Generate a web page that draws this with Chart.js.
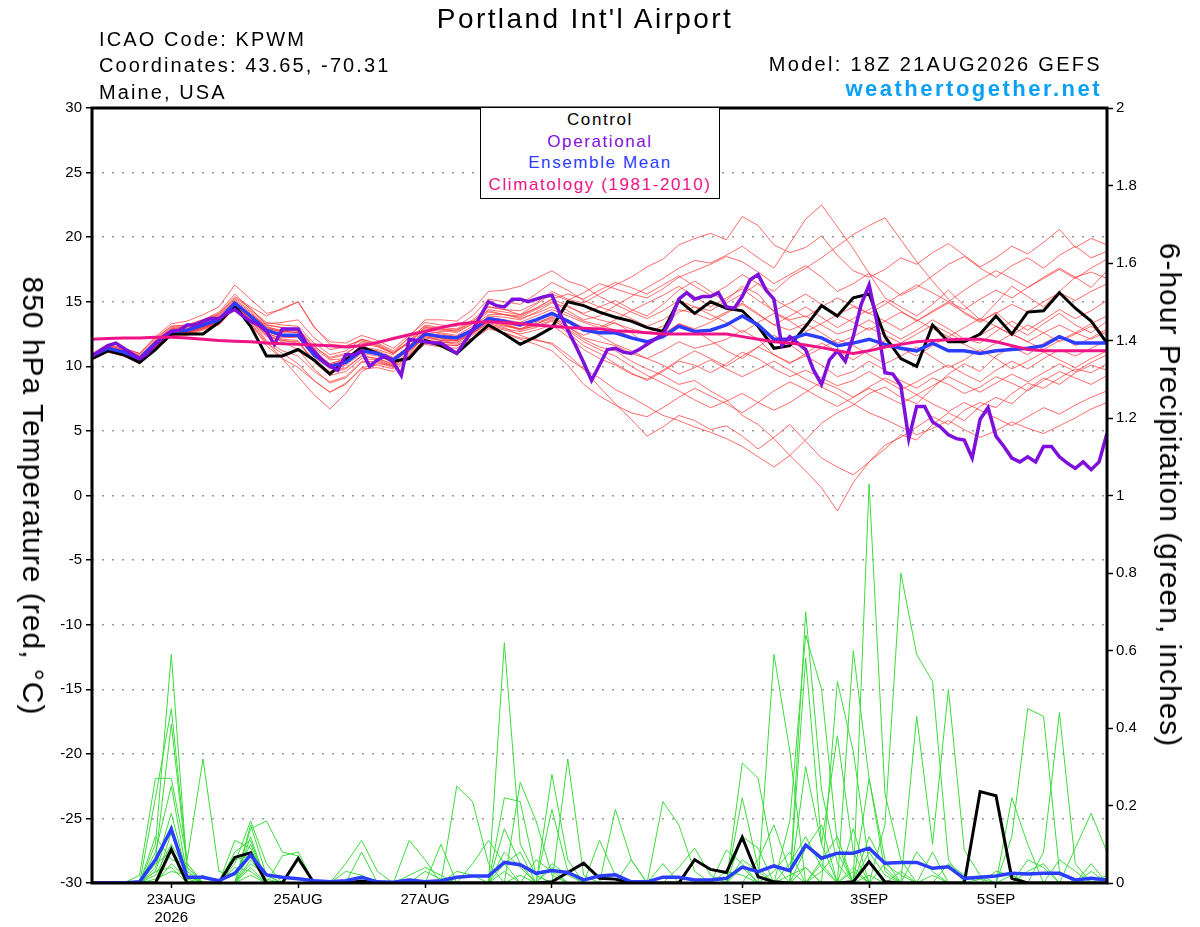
<!DOCTYPE html>
<html lang="en">
<head>
<meta charset="utf-8">
<title>Portland Int'l Airport - GEFS meteogram</title>
<script src="https://cdn.jsdelivr.net/npm/chart.js@4.4.1/dist/chart.umd.min.js"></script>
<style>
  html, body { margin: 0; padding: 0; background: #fff; }
  #wrap { position: relative; width: 1200px; height: 927px; overflow: hidden;
          font-family: "Liberation Sans", Arial, Helvetica, sans-serif; color: #000; }
  #chart { position: absolute; left: 0; top: 0; }
  .t { position: absolute; white-space: nowrap; }
  #title { left: 0; width: 1170px; top: 2px; text-align: center; font-size: 28px; line-height: 34px; letter-spacing: 2.4px; }
  .info { left: 99px; font-size: 20px; line-height: 24px; letter-spacing: 2.1px; }
  .right { right: 98px; text-align: right; }
  #model { top: 52px; font-size: 20px; line-height: 24px; letter-spacing: 2.3px; }
  #site { top: 76px; font-size: 22px; line-height: 26px; font-weight: bold; color: #0aa0f5; letter-spacing: 2.5px; }
  #legend { left: 480px; top: 107px; width: 240px; height: 92px; border: 1.5px solid #000; background: #fff;
            box-sizing: border-box; text-align: center; font-size: 17px; line-height: 21.5px; letter-spacing: 1.6px; padding-top: 1px; }
  .ytitle { font-size: 30px; line-height: 34px; letter-spacing: 1px; transform: translate(-50%, -50%) rotate(90deg); }
</style>
</head>
<body>
<div id="wrap">
  <canvas id="chart" width="1200" height="927"></canvas>
  <div class="t" id="title">Portland Int'l Airport</div>
  <div class="t info" style="top:27px">ICAO Code: KPWM</div>
  <div class="t info" style="top:53px">Coordinates: 43.65, -70.31</div>
  <div class="t info" style="top:80px">Maine, USA</div>
  <div class="t right" id="model">Model: 18Z 21AUG2026 GEFS</div>
  <div class="t right" id="site">weathertogether.net</div>
  <div class="t" id="legend">
    <div style="color:#000">Control</div>
    <div style="color:#7f10dc">Operational</div>
    <div style="color:#2b3dff">Ensemble Mean</div>
    <div style="color:#ee1488">Climatology (1981-2010)</div>
  </div>
  <div class="t ytitle" style="left:33px; top:496px">850 hPa Temperature (red, °C)</div>
  <div class="t ytitle" style="left:1170px; top:495px">6-hour Precipitation (green, inches)</div>
</div>

<script>
"use strict";

// forecast hours from 18Z 21AUG2026, every 6 h (operational every 3 h)
const stepHours = 6;
const opStepHours = 3;
const lastHour = 384;

// x axis: day ticks (hours) and their labels
const tickHours = [30, 78, 126, 174, 246, 294, 342];
const tickLabels = [["23AUG", "2026"], "25AUG", "27AUG", "29AUG", "1SEP", "3SEP", "5SEP"];

// 850 hPa temperature, deg C
const tempControl = [
  10.6,11.2,10.9,10.3,11.3,12.5,12.5,12.5,13.4,14.7,
  13.1,10.8,10.8,11.3,10.5,9.4,10.5,11.5,11.0,10.4,
  10.6,12.0,11.6,11.0,12.1,13.2,12.5,11.7,12.3,13.0,
  15.0,14.7,14.2,13.8,13.5,13.0,12.7,15.1,14.1,15.0,
  14.5,14.3,13.1,11.4,11.6,13.1,14.7,13.9,15.3,15.6,
  12.3,10.6,10.0,13.2,11.9,11.9,12.5,13.9,12.5,14.2,
  14.3,15.7,14.5,13.5,11.8
];
const tempMean = [
  10.8,11.4,11.1,10.6,11.8,12.7,12.8,13.2,13.6,14.9,
  13.9,12.8,12.4,12.4,10.9,10.0,10.3,11.2,11.0,10.5,
  11.4,12.5,12.3,12.2,12.8,13.7,13.5,13.2,13.6,14.1,
  13.5,12.8,12.6,12.6,12.2,11.9,12.3,13.1,12.7,12.8,
  13.2,13.9,13.2,12.1,12.1,12.5,12.2,11.6,11.8,12.1,
  11.7,11.4,11.2,11.8,11.2,11.2,11.0,11.2,11.3,11.4,
  11.6,12.3,11.8,11.8,11.8
];
const tempClimo = [
  12.1,12.15,12.2,12.2,12.25,12.25,12.2,12.1,12.0,11.95,
  11.9,11.8,11.75,11.7,11.65,11.6,11.5,11.6,11.85,12.15,
  12.45,12.7,13.0,13.25,13.4,13.45,13.4,13.3,13.2,13.1,
  13.0,12.95,12.9,12.75,12.7,12.6,12.5,12.5,12.5,12.5,
  12.5,12.3,12.1,11.9,11.8,11.65,11.45,11.2,11.0,11.2,
  11.5,11.7,11.9,12.0,12.05,12.1,12.1,11.9,11.6,11.3,
  11.2,11.2,11.2,11.2,11.2
];
// operational run, 3-hourly
const tempOper = [
  10.8,11.2,11.6,11.8,11.4,11.0,10.6,11.0,11.7,12.3,
  12.7,12.8,13.2,13.2,13.5,13.7,13.7,14.1,14.4,13.9,
  13.5,13.2,12.7,11.7,12.9,12.9,12.9,11.8,11.2,10.5,
  10.0,9.7,10.9,10.9,11.2,10.0,10.5,10.8,10.3,9.3,
  12.1,12.0,11.9,11.8,11.8,11.4,11.0,11.9,12.8,13.9,
  15.0,14.7,14.6,15.2,15.2,15.0,15.2,15.4,15.5,14.1,
  12.8,11.6,10.3,8.9,10.1,11.3,11.4,11.1,11.0,11.3,
  11.7,12.1,12.5,13.6,15.2,15.7,15.2,15.4,15.4,15.7,
  14.6,14.5,15.4,16.7,17.1,15.9,15.2,11.6,12.3,11.8,
  11.3,9.7,8.6,10.5,11.2,10.4,12.3,14.8,16.3,13.4,
  9.5,9.4,8.5,4.4,6.9,6.9,5.7,5.3,4.7,4.4,
  4.3,2.9,5.9,6.8,4.6,3.8,2.9,2.6,3.0,2.6,
  3.8,3.8,3.0,2.5,2.1,2.6,2.0,2.6,4.8
];

// ensemble members, temperature
const tempMembers = [
  [10.9,11.5,11.3,10.8,12.0,13.0,13.1,13.6,14.0,15.3,
   14.5,13.2,13.0,12.8,11.4,10.5,10.6,11.5,11.3,10.9,
   12.0,13.2,13.0,12.9,13.6,14.6,14.4,14.3,14.9,15.8,
   15.2,14.9,15.6,16.3,16.9,17.7,18.3,19.4,19.9,20.3,
   19.8,21.6,20.9,19.4,18.8,19.2,20.1,18.6,17.4,16.9,
   17.5,18.4,17.9,18.8,19.5,18.6,17.7,18.4,19.3,18.7,
   19.6,20.6,19.2,19.9,19.4],
  [10.7,11.2,10.9,10.4,11.5,12.4,12.6,13.0,13.3,14.6,
   13.5,12.3,12.0,11.9,10.5,9.6,9.9,10.8,10.6,10.2,
   10.9,12.1,11.8,11.9,12.5,13.4,13.1,12.9,13.1,13.6,
   12.9,12.1,11.5,11.2,10.4,9.8,9.3,8.6,8.9,8.1,
   7.4,6.2,5.5,4.4,3.1,1.9,0.6,-1.2,1.0,2.6,
   3.9,4.5,5.3,6.1,5.5,6.6,7.2,6.8,7.9,8.7,
   8.3,9.1,9.8,9.5,10.2],
  [10.6,11.3,11.0,10.5,11.6,12.5,12.7,13.1,13.5,14.8,
   13.8,12.5,11.9,11.3,9.8,8.7,9.1,10.3,10.4,10.0,
   11.0,12.3,12.0,12.0,12.6,13.3,13.0,12.4,12.0,11.8,
   10.9,9.8,9.1,8.2,7.6,6.9,6.2,5.8,5.3,4.9,
   4.4,3.8,3.0,2.2,3.1,4.3,5.6,6.4,7.0,7.9,
   8.4,7.6,7.1,8.3,9.4,10.2,9.6,10.8,11.5,10.9,
   11.8,12.4,11.6,12.2,12.9],
  [10.8,11.4,11.2,10.7,11.9,12.8,12.9,13.4,13.9,15.1,
   14.2,13.0,12.6,12.9,11.6,10.6,10.9,11.9,11.6,11.0,
   11.8,12.9,12.7,12.8,13.5,14.3,14.0,13.8,14.4,15.0,
   14.3,13.6,13.9,14.7,15.4,16.1,16.8,17.6,18.2,18.0,
   18.6,19.3,18.4,17.6,19.5,21.4,22.5,20.8,19.1,17.2,
   15.3,14.6,13.9,14.8,15.9,14.7,13.6,14.9,16.2,15.4,
   14.6,15.8,16.9,16.1,17.4],
  [10.8,11.3,11.0,10.6,11.8,12.6,12.8,13.2,13.5,14.9,
   14.0,13.1,12.7,12.6,11.1,10.2,10.6,11.3,11.1,10.6,
   11.6,12.8,12.5,12.3,12.9,13.9,13.8,13.6,14.2,14.9,
   14.6,14.1,14.6,15.1,14.4,13.9,14.8,15.9,16.6,15.8,
   14.9,15.6,16.4,15.8,16.9,17.6,18.4,19.3,20.2,20.9,
   21.5,19.8,18.1,16.6,15.2,14.1,13.4,14.2,13.1,12.4,
   13.3,14.1,13.2,12.6,13.5],
  [10.5,11.1,10.8,10.2,11.4,12.3,12.4,12.8,13.3,14.5,
   13.4,11.6,10.6,9.9,8.9,8.0,8.6,9.9,10.1,9.8,
   10.7,11.7,11.5,11.4,12.1,12.9,12.6,12.2,12.1,11.7,
   10.6,9.8,8.4,7.1,5.9,4.6,5.3,6.2,5.8,5.1,
   5.4,4.6,3.6,4.5,5.5,4.2,2.9,2.2,1.6,2.6,
   3.6,4.7,4.3,5.5,6.4,5.8,6.9,7.6,7.1,8.2,
   9.1,8.6,9.5,10.1,9.7],
  [10.9,11.6,11.3,10.9,12.1,13.1,13.2,13.6,14.2,15.6,
   14.4,13.4,13.2,13.1,11.8,10.9,11.2,12.1,11.8,11.2,
   12.2,13.1,12.9,12.8,13.4,14.6,14.4,14.0,14.5,15.2,
   14.7,14.0,13.6,13.3,12.9,12.6,13.1,14.2,14.6,14.3,
   15.1,16.2,15.6,14.2,13.6,13.9,13.2,12.5,12.9,13.6,
   12.8,12.1,12.8,13.6,12.9,12.1,11.8,12.7,13.5,12.8,
   13.6,14.4,13.7,14.3,15.1],
  [10.6,11.2,10.9,10.4,11.6,12.6,12.6,13.0,13.4,14.7,
   13.7,12.6,12.1,12.0,10.3,9.3,9.6,10.6,10.5,10.0,
   11.1,12.4,12.2,12.0,12.7,13.6,13.2,12.8,13.2,13.9,
   13.1,12.2,11.9,11.6,11.0,10.6,11.2,11.9,11.4,11.7,
   12.1,12.8,12.1,10.9,10.3,10.8,10.1,9.2,9.6,10.4,
   9.7,8.9,8.3,9.1,8.6,7.9,8.4,9.2,8.7,8.1,
   8.9,9.6,9.1,8.6,9.3],
  [10.8,11.5,11.2,10.8,12.0,12.9,13.1,13.5,14.0,15.2,
   14.3,13.3,13.4,13.6,12.2,11.3,11.5,12.1,11.7,11.1,
   11.9,13.0,12.8,12.6,13.3,14.4,14.2,14.0,14.8,15.6,
   15.1,15.7,16.4,16.0,15.6,15.3,16.0,16.9,17.4,17.9,
   18.5,18.1,17.3,16.4,17.1,17.8,16.9,15.8,16.4,17.2,
   16.4,15.5,16.1,17.0,17.9,18.5,17.6,16.9,17.8,18.4,
   17.6,18.6,19.3,18.4,18.9],
  [10.7,11.3,10.9,10.5,11.7,12.5,12.7,13.1,13.4,14.7,
   13.6,12.0,11.2,10.8,9.6,8.8,9.2,10.4,10.3,9.9,
   10.8,12.0,11.9,11.7,12.4,13.2,12.9,12.7,13.0,13.5,
   12.6,11.6,11.0,10.2,9.5,8.9,9.6,10.4,10.1,9.5,
   10.2,11.1,10.6,9.8,9.2,9.7,9.1,8.5,8.9,9.6,
   8.9,8.2,8.8,9.5,10.1,9.4,8.8,9.7,10.4,9.8,
   10.6,11.3,10.8,11.4,12.0],
  [11.0,11.7,11.4,11.0,12.3,13.3,13.5,14.0,14.6,16.3,
   15.2,14.1,14.4,15.0,13.0,11.9,11.8,12.4,12.0,11.4,
   12.4,13.4,13.2,13.1,13.9,15.2,15.0,14.8,15.6,16.5,
   15.9,15.1,14.6,14.2,13.7,13.1,13.6,14.4,14.1,13.6,
   14.2,14.9,14.1,13.2,12.8,13.3,12.6,11.8,12.3,13.0,
   12.4,11.8,12.5,13.2,12.6,11.9,12.4,13.1,12.5,11.9,
   12.6,13.2,12.6,13.3,13.9],
  [10.6,11.2,10.8,10.3,11.5,12.4,12.5,12.9,13.2,14.5,
   13.4,11.9,10.6,9.2,7.8,6.7,7.9,9.6,10.2,10.1,
   11.2,12.2,12.0,11.8,12.6,13.5,13.3,12.9,13.4,13.8,
   13.0,12.4,12.9,13.4,12.6,11.6,12.4,13.3,12.8,12.0,
   11.2,10.6,11.5,12.4,11.7,10.8,11.4,12.1,11.6,10.9,
   10.2,10.8,11.5,10.7,9.9,10.5,11.3,10.6,9.8,10.4,
   11.1,10.5,9.9,10.6,11.2],
  [10.9,11.5,11.2,10.7,11.9,12.9,13.0,13.4,13.8,15.0,
   14.1,13.2,13.0,12.8,11.5,10.7,11.0,11.8,11.5,11.0,
   12.3,13.6,13.6,13.5,14.4,15.8,15.9,16.2,16.8,17.4,
   16.6,16.2,15.4,14.8,14.2,13.7,14.3,15.1,14.6,14.0,
   13.4,12.6,13.4,14.1,13.5,12.7,13.3,14.0,14.6,14.1,
   13.5,12.8,13.5,14.3,15.0,14.4,15.2,15.9,15.3,16.1,
   16.8,17.5,16.8,17.6,18.3],
  [10.7,11.3,11.0,10.5,11.7,12.6,12.7,13.1,13.5,14.8,
   13.8,12.7,12.3,12.2,10.7,9.8,10.1,11.0,10.8,10.3,
   11.3,12.4,12.2,12.1,12.7,13.5,13.2,12.9,13.3,13.7,
   12.8,11.9,11.3,10.8,10.0,9.3,8.7,8.1,7.4,6.8,
   7.3,7.9,7.2,6.6,7.2,8.0,8.8,8.3,7.6,8.4,
   9.1,8.5,7.8,7.1,6.5,7.2,6.6,6.0,5.4,6.1,
   6.8,6.3,7.0,7.6,8.1],
  [10.8,11.4,11.1,10.6,11.8,12.7,12.8,13.3,13.7,15.0,
   14.0,13.0,12.8,12.7,11.2,10.2,10.5,11.4,11.2,10.7,
   11.5,12.6,12.4,12.3,12.9,13.8,13.6,13.4,13.9,14.4,
   13.9,13.4,13.0,13.6,14.3,14.9,15.5,16.2,15.4,14.6,
   15.3,16.0,15.1,14.3,14.9,15.6,14.8,14.0,13.4,12.8,
   13.5,14.2,13.6,12.9,12.3,13.0,13.7,13.1,12.4,13.2,
   12.6,11.9,12.5,13.1,12.4],
  [10.7,11.3,11.0,10.5,11.6,12.5,12.6,13.0,13.4,14.7,
   13.7,12.5,12.2,12.3,10.9,10.1,10.4,11.2,11.0,10.5,
   11.2,12.3,12.1,12.0,12.6,13.5,13.3,13.1,13.6,14.1,
   13.6,13.0,12.4,11.7,11.2,10.6,10.1,9.4,9.9,10.5,
   9.8,9.2,9.8,10.4,9.7,9.0,8.4,7.8,7.1,6.4,
   5.9,5.3,4.7,5.2,5.8,5.1,4.5,5.0,5.7,5.2,
   4.8,5.4,6.0,6.7,7.2],
  [10.8,11.4,11.1,10.6,11.8,12.8,12.9,13.3,13.7,14.9,
   13.9,12.9,12.7,12.6,11.0,10.1,10.4,11.3,11.1,10.6,
   11.6,12.7,12.6,12.4,13.1,14.0,14.0,13.9,14.5,15.2,
   15.6,15.2,15.9,16.5,16.1,15.6,16.3,17.0,16.2,15.5,
   16.2,17.1,16.4,15.2,14.5,13.8,14.6,15.3,14.7,14.1,
   14.8,15.6,16.3,15.7,15.0,15.9,16.7,17.4,16.8,16.1,
   16.9,17.6,16.9,17.3,16.8],
  [10.6,11.1,10.8,10.3,11.5,12.4,12.5,12.9,13.3,14.5,
   13.2,11.8,11.0,10.2,8.9,8.0,8.7,9.8,9.9,9.6,
   10.6,11.8,11.7,11.6,12.2,13.1,12.8,12.5,12.8,13.2,
   12.3,11.3,10.6,10.1,9.4,9.0,9.7,10.5,11.2,10.6,
   10.0,10.8,11.5,10.9,10.2,11.0,11.8,11.2,10.5,11.3,
   12.0,11.4,10.8,11.6,12.3,11.7,11.1,11.8,12.5,11.9,
   11.3,12.0,12.6,12.1,12.7],
  [10.9,11.6,11.4,11.0,12.2,13.1,13.2,13.6,14.1,15.4,
   14.6,13.9,14.5,15.0,13.1,11.7,11.6,12.0,11.6,11.0,
   11.9,13.0,12.9,12.7,13.3,14.2,14.0,13.7,14.1,14.6,
   14.1,13.5,13.2,12.8,12.3,11.8,12.5,13.3,12.9,13.4,
   14.1,14.8,14.0,13.2,13.9,14.6,13.8,13.0,13.7,14.4,
   15.1,14.3,13.5,14.2,14.9,14.2,13.5,14.1,14.8,14.2,
   15.0,15.7,15.1,15.8,16.4],
  [10.7,11.2,10.9,10.4,11.6,12.5,12.6,13.0,13.3,14.6,
   13.6,12.4,12.0,11.8,10.4,9.5,9.8,10.8,10.6,10.1,
   10.8,11.9,11.7,11.6,12.2,13.0,12.6,12.1,11.7,11.2,
   10.1,8.6,7.7,7.0,6.4,6.1,6.8,7.6,8.3,7.7,
   7.1,6.4,7.2,8.1,8.8,8.2,7.5,6.9,7.6,8.3,
   7.7,7.1,7.8,8.5,9.2,8.6,8.0,8.7,9.4,8.8,
   9.5,10.2,9.6,10.3,10.9]
];

// 6-hour precipitation, inches
const precipControl = [
  0,0,0,0,0,.087,0,0,0,.066,
  .078,0,0,.064,0,0,0,.005,0,0,
  0,0,0,0,0,0,0,0,0,.003,
  .027,.051,.012,.01,0,0,0,0,.06,.035,
  .027,.118,.016,.003,0,0,0,0,.003,.055,
  .003,0,0,0,0,0,.236,.225,.012,0,
  0,0,0,0,0
];
const precipMean = [
  0,0,0,.003,.06,.139,.015,.015,.006,.025,
  .072,.021,.015,.011,.006,.003,.006,.015,.003,.002,
  .008,.003,.006,.015,.018,.018,.053,.047,.025,.032,
  .027,.008,.018,.021,.003,.003,.015,.015,.008,.008,
  .012,.041,.029,.044,.032,.098,.064,.077,.077,.09,
  .051,.053,.053,.038,.042,.012,.015,.018,.025,.023,
  .025,.025,.008,.012,.008
];
const precipMembers = [
  [0,0,0,0,.22,.45,.05,0,0,0,
   .15,.02,0,0,0,0,0,0,0,0,
   0,0,0,0,0,0,.62,.10,.02,0,
   0,0,0,0,0,0,0,0,0,0,
   0,0,0,0,0,.70,.24,.05,0,.12,
   .04,0,0,.08,0,0,0,0,.12,.45,
   .43,.03,0,0,0],
  [0,0,0,0,.10,.59,.03,0,0,.05,
   .16,.05,0,0,0,0,0,0,0,0,
   0,0,0,.25,.21,.05,0,0,0,.04,
   0,0,0,0,0,0,0,0,0,0,
   0,.31,.27,.05,0,0,0,0,0,1.03,
   .23,.06,0,0,0,0,0,0,0,0,
   0,0,.09,.18,.08],
  [0,0,0,.02,.27,.27,.06,.32,.03,.02,
   .10,0,0,0,0,0,0,0,0,0,
   0,0,.10,0,0,0,0,0,0,0,
   .32,.02,0,0,0,0,0,0,0,0,
   0,0,0,0,.16,.64,.50,.10,0,0,
   .15,.80,.59,.52,.06,0,0,0,.02,0,
   0,0,0,0,0],
  [0,0,0,0,.06,.41,.04,0,0,0,
   .14,.16,.08,.07,0,0,0,0,0,0,
   0,0,0,0,0,0,0,.26,.16,.02,
   0,0,0,0,0,0,.21,.15,.03,0,
   0,0,0,.59,.34,0,0,0,.60,.27,
   .03,0,0,0,0,0,0,0,0,0,
   .08,.44,.05,0,0],
  [0,0,0,0,.08,.25,.02,0,0,0,
   .12,0,0,0,0,0,.05,.11,.03,0,
   0,0,0,0,0,0,0,0,0,.28,
   .06,0,0,.19,.06,0,0,0,0,0,
   0,0,0,0,0,.58,.10,.38,.08,0,
   0,0,.43,.10,.50,.085,.02,0,0,0,
   0,0,0,0,0],
  [0,0,0,0,.04,.18,.02,0,0,.11,
   .09,0,0,0,0,0,0,0,0,0,
   .11,.06,0,0,0,0,.22,.21,.02,0,
   0,0,0,0,0,0,0,0,0,0,
   0,.22,.04,0,0,0,0,.52,.34,.05,
   0,0,0,0,0,0,0,0,.22,.10,
   0,0,0,.03,0],
  [0,0,0,0,.03,.15,0,.02,0,0,
   .08,0,.07,.08,0,0,0,0,0,0,
   0,0,0,0,.05,.11,.05,0,0,0,
   0,0,.11,.02,0,0,0,0,0,0,
   .085,.05,0,0,.05,.12,.04,0,0,.27,
   .06,0,0,0,0,0,0,.03,.02,0,
   0,0,0,0,0],
  [0,0,0,0,.02,.10,.03,0,0,.06,
   .07,0,0,0,0,0,0,.08,0,0,
   0,.03,.01,0,0,0,0,0,0,.19,
   .03,0,0,0,0,0,.05,0,0,0,
   0,0,.06,.15,.03,0,.06,.12,0,0,
   0,0,.08,.03,0,0,0,0,0,0,
   0,.06,.03,0,0],
  [0,0,0,0,.05,.08,.04,0,0,0,
   .05,.02,0,0,0,0,.03,.02,0,0,
   0,0,0,0,0,0,.05,.08,0,0,
   0,0,0,0,0,0,0,.04,.09,.02,
   0,0,0,0,0,.09,.15,0,.04,0,
   .05,.02,0,0,0,0,0,0,0,.03,
   .05,0,0,0,.02],
  [0,0,0,0,.12,.06,.05,0,0,0,
   .04,0,0,0,0,0,0,0,0,0,
   .02,.04,.02,0,0,0,.08,.04,0,0,
   0,0,0,0,.06,0,0,0,0,0,
   0,.04,0,.03,.08,0,.05,0,.03,0,
   0,0,0,0,.05,.02,0,0,0,0,
   0,0,0,0,0],
  [0,0,0,0,0,.05,.01,0,0,.04,
   .03,0,0,0,0,0,0,0,0,0,
   0,0,0,0,0,0,.03,0,.06,.03,
   0,0,0,0,0,0,0,0,0,0,
   0,.06,.03,0,0,.04,0,0,0,.08,
   .02,0,0,0,0,0,.01,0,0,0,
   0,0,0,.05,0],
  [0,0,0,0,.03,.04,0,0,0,0,
   .06,.01,0,0,0,0,0,0,0,0,
   0,0,0,0,0,0,0,.02,0,.05,
   .02,0,0,0,0,0,0,0,0,0,
   .03,.02,0,0,0,0,.03,.08,0,0,
   0,.03,0,0,0,0,0,0,0,0,
   0,0,0,0,0],
  [0,0,0,0,.01,.03,.02,0,0,0,
   .02,0,0,0,0,0,0,0,0,0,
   0,0,0,.03,.02,0,0,0,0,0,
   0,0,0,0,0,0,0,0,0,0,
   0,0,0,0,.02,.04,0,0,0,.02,
   0,0,0,.02,0,0,0,0,0,0,
   0,0,0,0,0],
  [0,0,0,0,0,.13,.02,0,0,.08,
   .11,0,0,0,0,0,0,0,0,0,
   0,0,0,0,0,0,.14,.05,0,0,
   0,0,0,0,0,0,0,0,0,0,
   0,.12,.09,0,0,.30,.10,0,.14,0,
   0,0,0,0,0,0,0,0,0,.06,
   .04,0,0,0,0]
];

function series(values, step) {
  return values.map((v, i) => ({ x: i * step, y: v }));
}

const datasets = [];

tempMembers.forEach(m => {
  datasets.push({ data: series(m, stepHours), yAxisID: "y", borderColor: "rgba(255,45,45,0.7)", borderWidth: 1, order: 10 });
});
precipMembers.forEach(m => {
  datasets.push({ data: series(m, stepHours), yAxisID: "y2", borderColor: "rgb(60,220,60)", borderWidth: 1, order: 11 });
});

datasets.push({ data: series(precipControl, stepHours), yAxisID: "y2", borderColor: "#000", borderWidth: 3, order: 5 });
datasets.push({ data: series(precipMean, stepHours), yAxisID: "y2", borderColor: "#2b3dff", borderWidth: 3.5, order: 4 });
datasets.push({ data: series(tempControl, stepHours), yAxisID: "y", borderColor: "#000", borderWidth: 3, order: 3 });
datasets.push({ data: series(tempMean, stepHours), yAxisID: "y", borderColor: "#2b3dff", borderWidth: 3.5, order: 2 });
datasets.push({ data: series(tempOper, opStepHours), yAxisID: "y", borderColor: "#7f10dc", borderWidth: 3.5, order: 1 });
datasets.push({ data: series(tempClimo, stepHours), yAxisID: "y", borderColor: "#ee1488", borderWidth: 3, order: 0 });

// black box round the plot
const framePlugin = {
  id: "frame",
  afterDatasetsDraw(chart) {
    const { ctx, chartArea: a } = chart;
    ctx.save();
    ctx.strokeStyle = "#000";
    ctx.lineWidth = 3;
    ctx.strokeRect(a.left, a.top, a.right - a.left, a.bottom - a.top);
    ctx.restore();
  }
};

Chart.defaults.font.family = '"Liberation Sans", Arial, Helvetica, sans-serif';
Chart.defaults.color = "#000";

new Chart(document.getElementById("chart"), {
  type: "line",
  data: { datasets: datasets },
  options: {
    responsive: false,
    animation: false,
    events: [],
    layout: { padding: { top: 108, left: 0, right: 0, bottom: 0 } },
    plugins: { legend: { display: false }, tooltip: { enabled: false } },
    elements: { point: { radius: 0 }, line: { tension: 0 } },
    scales: {
      x: {
        type: "linear", min: 0, max: lastHour,
        border: { display: false },
        grid: { drawOnChartArea: false, drawTicks: true, tickLength: 5, tickColor: "#000", tickWidth: 1.5 },
        ticks: { color: "#000", font: { size: 15 }, padding: 3, maxRotation: 0, autoSkip: false,
                 callback: (v, i) => tickLabels[i] },
        afterBuildTicks: s => { s.ticks = tickHours.map(h => ({ value: h })); },
        afterFit: s => { s.height = 44; }
      },
      y: {
        type: "linear", position: "left", min: -30, max: 30,
        border: { display: false, dash: [2, 8] },
        grid: { color: "#9a9a9a", lineWidth: 1.5, tickColor: "#000", tickLength: 6, tickWidth: 1.5, tickBorderDash: [] },
        ticks: { stepSize: 5, color: "#000", font: { size: 15 }, padding: 4 },
        afterFit: s => { s.width = 92; }
      },
      y2: {
        type: "linear", position: "right", min: 0, max: 2,
        border: { display: false },
        grid: { drawOnChartArea: false, tickColor: "#000", tickLength: 6, tickWidth: 1.5 },
        ticks: { stepSize: 0.2, color: "#000", font: { size: 15 }, padding: 3,
                 callback: v => String(Number(v.toFixed(1))) },
        afterFit: s => { s.width = 93; }
      }
    }
  },
  plugins: [framePlugin]
});
</script>
</body>
</html>
